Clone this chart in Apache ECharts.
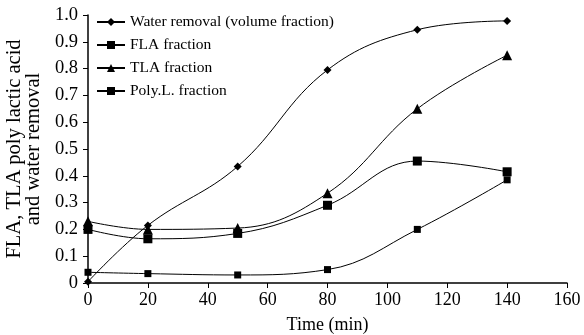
<!DOCTYPE html>
<html><head><meta charset="utf-8">
<script src="https://cdn.jsdelivr.net/npm/echarts@6/dist/echarts.min.js"></script>
<style>html,body{margin:0;padding:0;background:#fff}#c{width:584px;height:335px}</style>
</head><body><div id="c"></div>
<script>
const times = [0, 20, 50, 80, 110, 140];
const waterRemoval = [0.005, 0.215, 0.435, 0.795, 0.945, 0.978];
const flaFraction = [0.04, 0.035, 0.03, 0.05, 0.2, 0.385];
const tlaFraction = [0.23, 0.2, 0.205, 0.335, 0.65, 0.85];
const polyLFraction = [0.2, 0.165, 0.185, 0.29, 0.455, 0.415];
const seriesNames = ['Water removal (volume fraction)', 'FLA fraction', 'TLA fraction', 'Poly.L. fraction'];
const font = 'Liberation Serif';
function pairs(v){ return times.map((t,i)=>[t,v[i]]); }
function mk(name, data, symbol, size){
  return {name, type:'line', data:pairs(data), smooth:0.4, symbol, symbolSize:size,
    lineStyle:{color:'#000', width:1}, itemStyle:{color:'#000'}};
}
const chart = echarts.init(document.getElementById('c'));
chart.setOption({
  animation:false,
  grid:{left:88, right:17, top:15, bottom:52, containLabel:false, outerBoundsMode:'none'},
  legend:{orient:'vertical', left:91, top:9, itemGap:7, itemWidth:28, itemHeight:10,
    textStyle:{fontFamily:font, fontSize:15.5, color:'#000'},
    data:seriesNames},
  xAxis:{type:'value', min:0, max:160, interval:20,
    name:'Time (min)', nameLocation:'middle', nameGap:33,
    nameTextStyle:{fontFamily:font, fontSize:18, color:'#000'},
    axisLine:{lineStyle:{color:'#000', width:1.5}},
    axisTick:{lineStyle:{color:'#000'}, length:5},
    axisLabel:{fontFamily:font, fontSize:18, color:'#000', margin:8},
    splitLine:{show:false}},
  yAxis:{type:'value', min:0, max:1, interval:0.1,
    name:'FLA, TLA poly lactic acid\nand water removal', nameLocation:'middle', nameGap:45,
    nameTextStyle:{fontFamily:font, fontSize:20.5, color:'#000', lineHeight:19},
    axisLine:{show:true, lineStyle:{color:'#000', width:1.5}},
    axisTick:{show:true, lineStyle:{color:'#000'}, length:5},
    axisLabel:{fontFamily:font, fontSize:18.5, color:'#000', margin:10,
      formatter:v=> v===0 ? '0' : v.toFixed(1)},
    splitLine:{show:false}},
  series:[
    mk(seriesNames[0], waterRemoval, 'diamond', 8),
    mk(seriesNames[1], flaFraction, 'rect', 7),
    mk(seriesNames[2], tlaFraction, 'triangle', 10),
    mk(seriesNames[3], polyLFraction, 'rect', 9)
  ]
});
</script></body></html>
